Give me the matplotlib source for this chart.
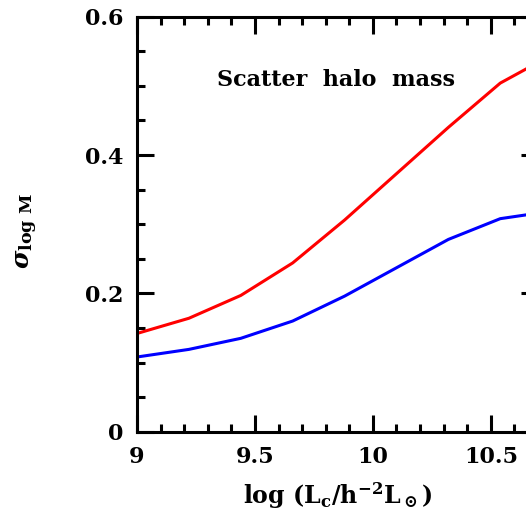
import matplotlib
matplotlib.use('Agg')
import matplotlib.pyplot as plt
from matplotlib.ticker import MultipleLocator

# данные
log_lc = [9.0, 9.22, 9.44, 9.66, 9.88, 10.10, 10.32, 10.54, 10.76]
sigma_red = [0.142, 0.164, 0.197, 0.244, 0.306, 0.373, 0.440, 0.504, 0.545]
sigma_blue = [0.108, 0.119, 0.135, 0.160, 0.196, 0.237, 0.278, 0.308, 0.319]

xticks = [9, 9.5, 10, 10.5]
xtick_labels = ['9', '9.5', '10', '10.5']
yticks = [0, 0.2, 0.4, 0.6]
ytick_labels = ['0', '0.2', '0.4', '0.6']

plt.rcParams['font.family'] = ['DejaVu Serif']
plt.rcParams['font.weight'] = 'bold'
plt.rcParams['mathtext.fontset'] = 'dejavuserif'

fig = plt.figure(figsize=(5.26, 5.20), dpi=100)
# правая граница осей уходит за край картинки
ax = fig.add_axes([137 / 526, 88.3 / 520, 401 / 526, 415 / 520])

ax.plot(log_lc, sigma_red, color='#ff0000', lw=2.2)
ax.plot(log_lc, sigma_blue, color='#0000ff', lw=2.2)

ax.set_xlim(9, 10.7)
ax.set_ylim(0, 0.6)

ax.set_xticks(xticks)
ax.set_xticklabels(xtick_labels)
ax.set_yticks(yticks)
ax.set_yticklabels(ytick_labels)
ax.xaxis.set_minor_locator(MultipleLocator(0.1))
ax.yaxis.set_minor_locator(MultipleLocator(0.05))

ax.tick_params(which='both', direction='in', top=True, right=True, width=2.2)
ax.tick_params(which='major', length=12, labelsize=16, pad=10)
ax.tick_params(which='minor', length=6)
for s in ax.spines.values():
    s.set_linewidth(2.2)
for lab in ax.get_xticklabels() + ax.get_yticklabels():
    lab.set_fontweight('bold')

ax.text(9.842, 0.508, 'Scatter  halo  mass', ha='center', va='center',
        fontsize=16, fontweight='bold')

ax.set_xlabel(r'log $\mathbf{(L_c/h^{-2}L_\odot)}$', fontsize=17, fontweight='bold', labelpad=9)
# подпись оси y ставим вручную
fig.text(27 / 526, 1 - 231 / 520, r'$\boldsymbol{\sigma}_{\mathbf{log\ M}}$', fontsize=18,
         rotation=90, ha='center', va='center')

fig.savefig('out.png', dpi=100)
